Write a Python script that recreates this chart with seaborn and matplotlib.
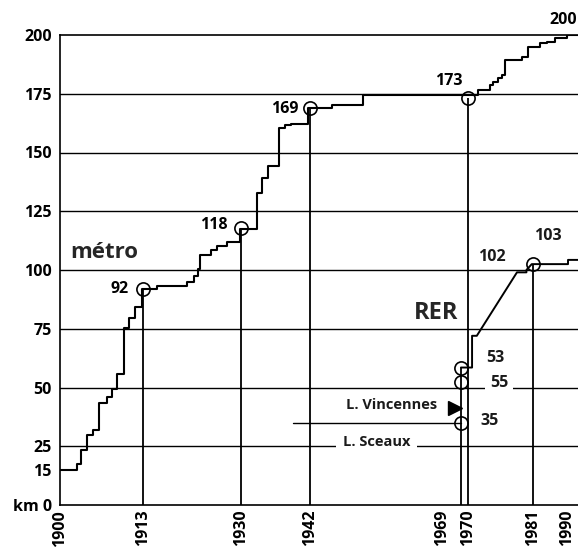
import numpy as np
import pandas as pd
import seaborn as sns
import matplotlib.pyplot as plt
from matplotlib import transforms

# length of the metro network (km), as steps
metro_year = [1900, 1902.6, 1903.3, 1904.3, 1905.2, 1906.1, 1907.3, 1908.2, 1909.0, 1910.0,
              1910.8, 1911.7, 1912.8, 1915.4, 1920.6, 1921.8, 1922.5, 1922.9, 1924.8, 1925.9,
              1927.6, 1929.8, 1932.8, 1933.7, 1934.7, 1936.7, 1937.6, 1938.7, 1941.7, 1945.9,
              1951.5, 1971.7, 1973.7, 1974.3, 1975.1, 1975.7, 1976.3, 1979.1, 1980.2, 1982.6,
              1984.3, 1986.1, 1988.9, 1991.4]
metro_km = [15, 17.5, 23.4, 29.8, 31.9, 43.3, 45.8, 49.5, 55.8, 75.2,
            79.7, 84.4, 92, 93.3, 95.1, 97.5, 100.5, 106.5, 108.5, 110.3,
            111.8, 117.5, 132.8, 139, 144.3, 160.3, 161.7, 162.3, 169, 170.3,
            174.6, 176.5, 178.7, 180.1, 181.6, 183, 189.4, 190.8, 195, 196.5,
            197.1, 198.6, 200, 200]

# RER network (km)
rer_year = [1969, 1970.7, 1970.7, 1971.5, 1978.3, 1979.9, 1979.9, 1980.8, 1989.1, 1989.1, 1991.4]
rer_km = [58.5, 58.5, 72, 72, 99, 99, 100, 102.5, 102.5, 104.3, 104.3]

# marked milestones
metro_mark_year = [1913, 1930, 1942, 1970]
metro_mark_km = [92, 118, 169, 173]
metro_mark_label = ['92', '118', '169', '173']
rer_mark_year = [1969, 1969, 1969, 1981]
rer_mark_km = [58.5, 52.3, 35, 102.5]
rer_mark_label = ['53', '55', '35', '103']

vincennes_year = [1939, 1969]
vincennes_km = [35, 35]

grid_km = [25, 50, 75, 100, 125, 150, 175]
y_ticks = [0, 15, 25, 50, 75, 100, 125, 150, 175, 200]
y_labels = ['km 0', '15', '25', '50', '75', '100', '125', '150', '175', '200']
x_ticks = [1900, 1913, 1930, 1942, 1969, 1970, 1981, 1990]

# uneven spacing of the original time axis
scale_years = [1880, 1900, 1913, 1930, 1942, 1969, 1970, 1981, 1990, 2010]
scale_pos = [-68, 60, 143, 241, 310, 461, 468, 533, 572, 659]


def to_pos(v):
    return np.interp(v, scale_years, scale_pos)


def to_year(v):
    return np.interp(v, scale_pos, scale_years)


sns.set_theme(style='white')
plt.rcParams['font.family'] = ['Open Sans', 'DejaVu Sans']

fig = plt.figure(figsize=(5.78, 5.53), dpi=100)
ax = fig.add_axes([60 / 578, 48 / 553, 518 / 578, 470 / 553])

metro = pd.DataFrame({'year': metro_year, 'km': metro_km})
rer = pd.DataFrame({'year': rer_year, 'km': rer_km})

for k in grid_km:
    ax.axhline(k, color='black', lw=1.0, zorder=1)

sns.lineplot(data=metro, x='year', y='km', drawstyle='steps-post', sort=False,
             estimator=None, color='black', lw=1.5, ax=ax)
sns.lineplot(data=rer, x='year', y='km', sort=False, estimator=None,
             color='black', lw=1.4, ax=ax)
ax.plot(vincennes_year, vincennes_km, color='black', lw=1.0)

ax.vlines(metro_mark_year, 0, metro_mark_km, color='black', lw=1.3)
ax.vlines([rer_mark_year[0], rer_mark_year[-1]], 0, [rer_mark_km[0], rer_mark_km[-1]],
          color='black', lw=1.3)
ax.plot(metro_mark_year + rer_mark_year, metro_mark_km + rer_mark_km, 'o', ls='none',
        ms=9.5, mfc='none', mec='black', mew=1.2)

bold = dict(fontsize=11.5, fontweight='bold', color='black')
plain = dict(fontsize=11.5, fontweight='bold', color='#1a1a1a')
offsets = {'92': (-10.5, 0, 'right'), '118': (-9.5, 2, 'right'),
           '169': (-8.5, -1, 'right'), '173': (-13.5, 12.5, 'center')}
for yr, k, lab in zip(metro_mark_year, metro_mark_km, metro_mark_label):
    dx, dy, ha = offsets[lab]
    ax.annotate(lab, (yr, k), xytext=(dx, dy), textcoords='offset points',
                ha=ha, va='center', annotation_clip=False, **bold)

rer_offsets = {'53': (25, 6.5), '55': (27.4, -0.7), '35': (20.5, 1.4), '103': (10.8, 20)}
for yr, k, lab in zip(rer_mark_year, rer_mark_km, rer_mark_label):
    dx, dy = rer_offsets[lab]
    box = None
    if lab == '55':
        box = dict(boxstyle='square,pad=0.3', fc='white', ec='none')
    ax.annotate(lab, (yr, k), xytext=(dx, dy), textcoords='offset points',
                ha='center', va='center', bbox=box, **plain)
ax.annotate('102', (rer_mark_year[-1], rer_mark_km[-1]), xytext=(-29.5, 5),
            textcoords='offset points', ha='center', va='center', **plain)
ax.annotate('200', (metro_year[-2], metro_km[-2]), xytext=(-3, 10.5),
            textcoords='offset points', ha='center', va='center',
            annotation_clip=False, **bold)

ax.text(1901.6, 105, 'métro', fontsize=16, fontweight='bold', va='baseline')
ax.text(1960.5, 79, 'RER', fontsize=17, fontweight='bold', va='baseline')

ax.annotate('L. Vincennes', (1969, 42.6), xytext=(-17.3, 0), textcoords='offset points',
            ha='right', va='center', fontsize=10.5, fontweight='bold', color='#1a1a1a')
ax.plot([1968.0], [41.3], marker='>', ms=10, color='black', ls='none')
ax.annotate('L. Sceaux', (1953.9, 25), xytext=(0, 3), textcoords='offset points',
            ha='center', va='center', fontsize=10.5, fontweight='bold', color='#1a1a1a',
            bbox=dict(boxstyle='square,pad=0.45', fc='white', ec='none'))

ax.set_xscale('function', functions=(to_pos, to_year))
ax.set_xlim(1900, 1991.4)
ax.set_ylim(0, 200)

ax.set_yticks(y_ticks)
ax.set_yticklabels(y_labels, fontsize=11.5, fontweight='bold')
ax.set_xticks(x_ticks)
ax.set_xticklabels([str(t) for t in x_ticks], fontsize=11.5, fontweight='bold',
                   rotation=90)
ax.xaxis.set_minor_locator(plt.NullLocator())
ax.tick_params(axis='both', length=0, colors='black')
ax.tick_params(axis='y', pad=6)
ax.tick_params(axis='x', pad=3.5)

shifts = {'1969': -0.19, '1990': -0.05}
for lbl in ax.get_xticklabels():
    if lbl.get_text() in shifts:
        move = transforms.ScaledTranslation(shifts[lbl.get_text()], 0, fig.dpi_scale_trans)
        lbl.set_transform(lbl.get_transform() + move)

ax.set_xlabel('')
ax.set_ylabel('')
for side in ['left', 'bottom', 'top']:
    ax.spines[side].set_color('black')
    ax.spines[side].set_linewidth(1.2)
ax.spines['right'].set_visible(False)
ax.grid(False)

fig.savefig('out.png', dpi=100)
